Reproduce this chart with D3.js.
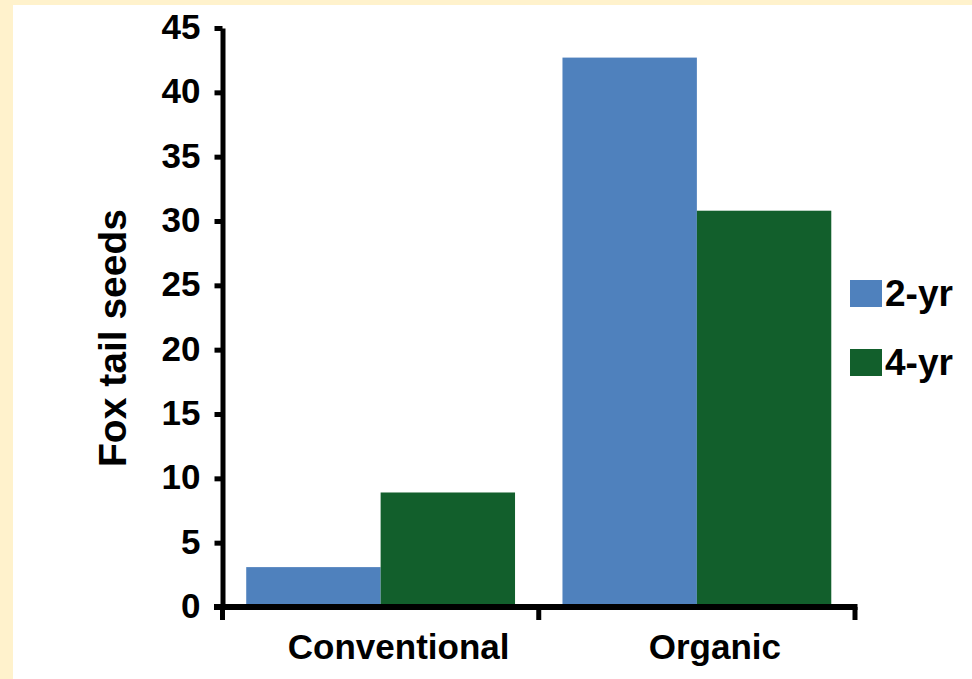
<!DOCTYPE html>
<html>
<head>
<meta charset="utf-8">
<script src="https://cdn.jsdelivr.net/npm/d3@7"></script>
<style>
  html, body { margin: 0; padding: 0; background: #fff; }
  svg { display: block; }
  text { font-family: "Liberation Sans", Arial, sans-serif; fill: #000; font-weight: bold; }
</style>
</head>
<body>
<svg id="chart" width="972" height="679"></svg>
<script>
const categories = ["Conventional", "Organic"];
const seriesNames = ["2-yr", "4-yr"];
const values2yr = [3.1, 42.7];
const values4yr = [8.9, 30.8];
const yTicks = [0, 5, 10, 15, 20, 25, 30, 35, 40, 45];
const colors = ["#4F81BD", "#125F2C"];
const yTitle = "Fox tail seeds";

(function () {
const svg = d3.select("#chart");
const W = 972, H = 679;

// cream frame (top and left bands)
svg.append("rect").attr("x", 0).attr("y", 0).attr("width", W).attr("height", H).attr("fill", "#FFF2CC");
svg.append("rect").attr("x", 13).attr("y", 5).attr("width", W - 13).attr("height", H - 5).attr("fill", "#fff");

const mLeft = 222.5, mRight = 855, mTop = 28, mBottom = 607;

const y = d3.scaleLinear().domain([0, 45]).range([mBottom, mTop]);
const pIn = 0.15;
const x0 = d3.scaleBand().domain(categories).range([mLeft, mRight]).paddingInner(pIn).paddingOuter(pIn / 2);
const x1 = d3.scaleBand().domain(seriesNames).range([0, x0.bandwidth()]).padding(0);

const data = categories.map((c, i) => ({ cat: c, vals: [values2yr[i], values4yr[i]] }));

// bars
const g = svg.append("g");
data.forEach(d => {
  seriesNames.forEach((s, j) => {
    g.append("rect")
      .attr("x", x0(d.cat) + x1(s))
      .attr("y", y(d.vals[j]))
      .attr("width", x1.bandwidth())
      .attr("height", y(0) - y(d.vals[j]))
      .attr("fill", colors[j]);
  });
});

// y axis
const yAxis = svg.append("g")
  .attr("transform", `translate(${mLeft},0)`)
  .call(d3.axisLeft(y).tickValues(yTicks).tickSize(8).tickSizeOuter(0).tickPadding(14));
yAxis.select(".domain").attr("stroke", "#000").attr("stroke-width", 5);
yAxis.selectAll(".tick line").attr("stroke", "#000").attr("stroke-width", 5);
yAxis.selectAll(".tick text")
  .attr("font-size", 35)
  .attr("font-weight", "bold")
  .attr("font-family", "'Liberation Sans', Arial, sans-serif")
  .attr("fill", "#000")
  .attr("dy", "0.3em");

// x axis (Excel-style: ticks at category boundaries)
const step = x0.step();
const boundaries = [x0(categories[0]) - step * pIn / 2]
  .concat(categories.map(c => x0(c) + x0.bandwidth() + step * pIn / 2));
svg.append("line")
  .attr("x1", mLeft - 8.5).attr("x2", boundaries[boundaries.length - 1] + 2.5)
  .attr("y1", y(0)).attr("y2", y(0))
  .attr("stroke", "#000").attr("stroke-width", 6);
boundaries.forEach(b => {
  svg.append("line")
    .attr("x1", b).attr("x2", b)
    .attr("y1", y(0)).attr("y2", y(0) + 13)
    .attr("stroke", "#000").attr("stroke-width", 5);
});
svg.selectAll(".xlab").data(categories).enter().append("text")
  .attr("class", "xlab")
  .attr("x", d => x0(d) + x0.bandwidth() / 2 + 18)
  .attr("y", 659)
  .attr("text-anchor", "middle")
  .attr("font-size", 35)
  .text(d => d);

// y title
svg.append("text")
  .attr("transform", `translate(126,338) rotate(-90)`)
  .attr("text-anchor", "middle")
  .attr("font-size", 39)
  .text(yTitle);

// legend
const legend = svg.append("g");
seriesNames.forEach((s, j) => {
  const ly = 280 + j * 69;
  legend.append("rect").attr("x", 850).attr("y", ly).attr("width", 32).attr("height", 27).attr("fill", colors[j]);
  legend.append("text").attr("x", 885).attr("y", ly + 26).attr("font-size", 37).text(s);
});
})();
</script>
</body>
</html>
